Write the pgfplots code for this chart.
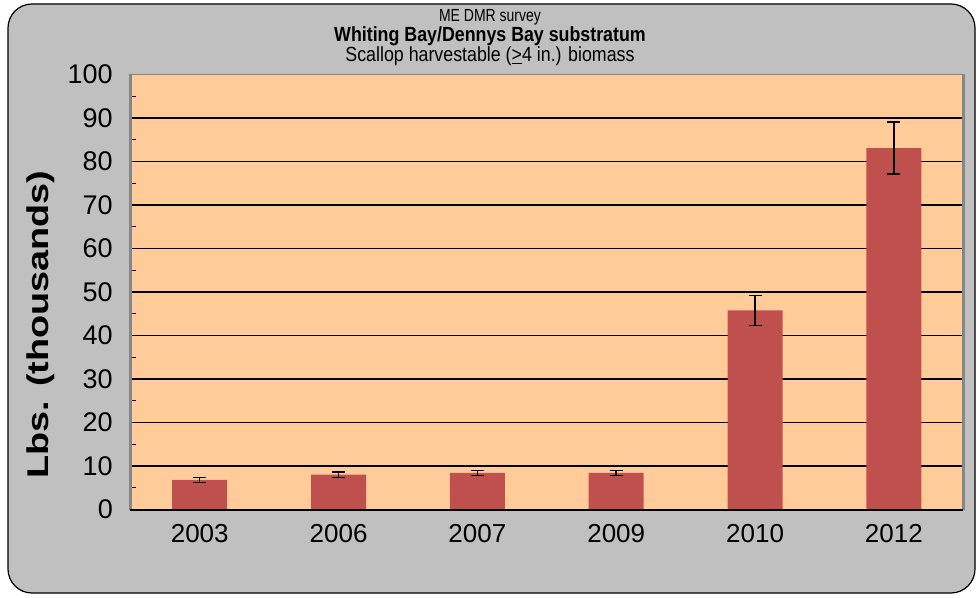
\documentclass[border=0pt]{standalone}
\usepackage{pgfplots}
\pgfplotsset{compat=1.18}
\usepackage{fontspec}
\setmainfont{Liberation Sans}
\definecolor{bgc}{HTML}{C0C0C0}
\definecolor{peach}{HTML}{FFCC99}
\definecolor{barred}{HTML}{C0504D}
\definecolor{axgray}{HTML}{868686}
\begin{document}
\begin{tikzpicture}[x=1pt,y=1pt]
\fill[white] (0,0) rectangle (979,597);
\draw[fill=bgc, draw=black, line width=1.2pt, rounded corners=24pt] (8,4) rectangle (975,593);
\begin{axis}[
  at={(130.3pt,87.5pt)}, anchor=south west,
  scale only axis, width=833pt, height=435pt,
  xmin=-0.5, xmax=5.5, ymin=0, ymax=100,
  axis background/.style={fill=peach},
  axis line style={draw=none},
  ybar, bar width=55pt,
  xtick={0,...,5},
  xticklabels={2003,2006,2007,2009,2010,2012},
  major x tick style={draw=none},
  extra x ticks={-0.5,0.5,1.5,2.5,3.5,4.5,5.5},
  extra x tick labels={},
  extra x tick style={tick align=outside, major tick length=7pt, major tick style={black, line width=1.2pt}},
  xtick pos=bottom,
  x tick label style={font=\fontsize{26}{30}\selectfont, yshift=-11pt},
  ytick={0,10,...,100},
  minor y tick num=1,
  ytick pos=left,
  y tick style={black, line width=1.2pt},
  tick align=inside,
  major tick length=6pt, minor tick length=6pt,
  /pgf/number format/assume math mode=true,
  y tick label style={font=\fontsize{27}{30}\selectfont, xshift=-14pt},
  ymajorgrids,
  grid style={black, line width=1.2pt},
  clip=false,
]
\addplot[fill=barred, draw=none,
  error bars/.cd, y dir=both, y explicit,
  error bar style={black, line width=1.5pt},
  error mark options={rotate=90, mark size=6.5pt, line width=1.5pt, black}]
  table[x=x, y=y, y error=e] {
x y e
0 6.8 0.6
1 8.0 0.6
2 8.4 0.55
3 8.4 0.55
4 45.8 3.45
5 83.1 6.0
};
\draw[axgray, line width=3pt] (rel axis cs:0,0) -- (rel axis cs:0,1);
\draw[axgray, line width=3pt] (rel axis cs:1,0) -- (rel axis cs:1,1);
\draw[axgray, line width=1.5pt] (rel axis cs:0,1) -- (rel axis cs:1,1);
\draw[black, line width=2pt] (rel axis cs:0,0) -- (rel axis cs:1,0);
\end{axis}
\node[rotate=90, font=\bfseries\fontsize{30}{34}\selectfont] at (41,272.5) {\scalebox{1.26}[1]{Lbs. (thousands)}};
\node[font=\fontsize{14}{18}\selectfont] at (490,580) {\scalebox{1}[1.25]{ME DMR survey}};
\node[font=\bfseries\fontsize{17.8}{20}\selectfont] at (490,561) {\scalebox{1}[1.15]{Whiting Bay/Dennys Bay substratum}};
\node[font=\fontsize{17.8}{20}\selectfont] at (490,541) {\scalebox{1}[1.15]{Scallop harvestable (\underline{>}4 in.) biomass}};
\end{tikzpicture}
\end{document}
